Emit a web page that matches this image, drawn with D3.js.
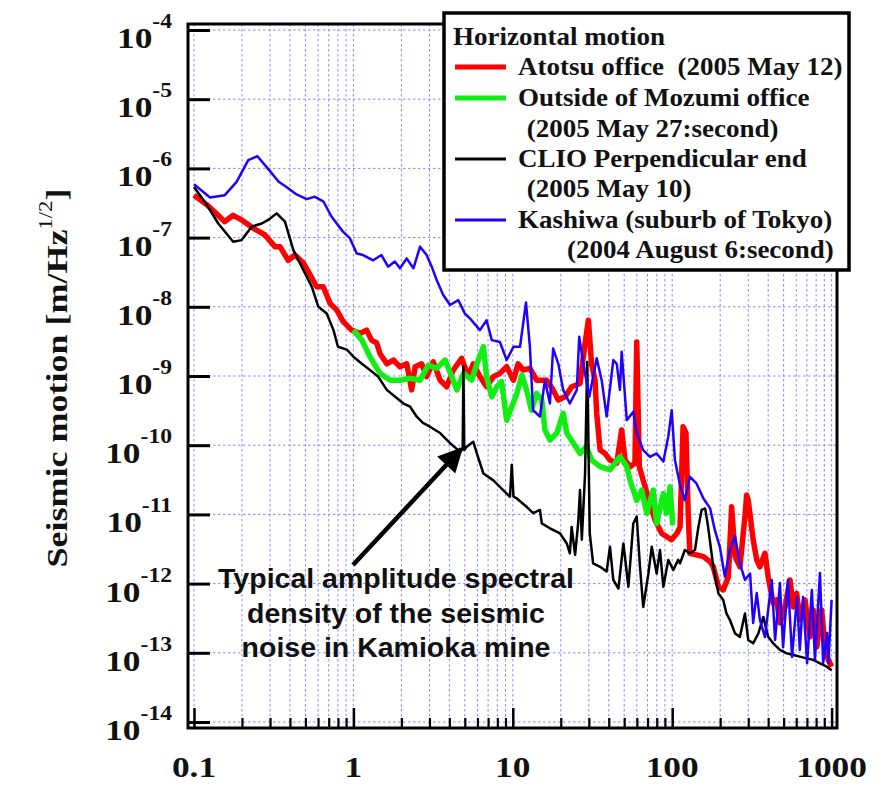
<!DOCTYPE html>
<html>
<head>
<meta charset="utf-8">
<script src="https://cdn.jsdelivr.net/npm/d3@7"></script>
<style>
  html, body { margin: 0; padding: 0; background: #fff; }
  svg { display: block; }
</style>
</head>
<body>
<div id="chart"></div>
<script>
// ---------- data: horizontal seismic amplitude spectral density [m/Hz^1/2] ----------
const xTickLabels = ["0.1", "1", "10", "100", "1000"];
const yDecadeExponents = [-4, -5, -6, -7, -8, -9, -10, -11, -12, -13, -14];

// Atotsu office (2005 May 12)
const atotsuFreq = [0.1, 0.12, 0.139, 0.156, 0.176, 0.199, 0.236, 0.279, 0.322, 0.346,
  0.39, 0.43, 0.485, 0.535, 0.588, 0.647, 0.714, 0.786, 0.863, 0.975,
  1.1, 1.21, 1.3, 1.4, 1.47, 1.62, 1.78, 1.96, 2.16, 2.32,
  2.44, 2.68, 2.88, 3.17, 3.5, 3.85, 4.23, 4.78, 5.26, 5.65,
  6.22, 6.85, 7.55, 8.3, 9.15, 10.1, 10.8, 11.6, 12.8, 14.1,
  16.3, 17.9, 19.3, 21.3, 23.4, 26.4, 28.4, 29.8, 31.2, 32.8,
  33.6, 35.3, 37.9, 40.7, 44.9, 48.2, 50.6, 54.4, 58.4, 59.9,
  62.2, 65.8, 72.5, 78, 86, 92, 99, 107, 112, 117,
  122, 126, 129, 142, 157, 173, 181, 195, 209, 225,
  236, 248, 266, 286, 293, 300, 322, 339, 355, 382,
  400, 430, 452, 474, 510, 548, 575, 604, 632, 681,
  731, 767, 808, 866, 909, 953, 1000];
const atotsuAsd = [4.1e-7, 3.0e-7, 2.2e-7, 1.7e-7, 2.1e-7, 1.8e-7, 1.36e-7, 1.09e-7, 7.4e-8, 7.4e-8,
  4.7e-8, 5.6e-8, 4.3e-8, 2.9e-8, 1.95e-8, 1.95e-8, 1.12e-8, 9.0e-9, 6.1e-9, 4.6e-9,
  4.1e-9, 4.6e-9, 3.3e-9, 3.0e-9, 2.1e-9, 1.5e-9, 1.7e-9, 1.36e-9, 1.5e-9, 6.3e-10,
  1.36e-9, 1.5e-9, 9.8e-10, 1.6e-9, 8.7e-10, 7.0e-10, 1.22e-9, 1.8e-9, 9.8e-10, 1.5e-9,
  9.8e-10, 7.0e-10, 9.8e-10, 1.09e-9, 1.36e-9, 8.7e-10, 1.5e-9, 1.22e-9, 1.29e-9, 8.7e-10,
  8.7e-10, 6.3e-10, 4.5e-10, 5.0e-10, 7.0e-10, 7.8e-10, 3.0e-9, 6.4e-9, 1.5e-9, 8.7e-10,
  2.9e-10, 8.5e-11, 7.6e-11, 6.1e-11, 5.5e-11, 1.66e-10, 6.1e-11, 4.9e-11, 5.5e-11, 3.1e-9,
  4.9e-11, 3.1e-11, 1.45e-11, 8.3e-12, 5.3e-12, 4.8e-12, 4.3e-12, 5.3e-12, 6.6e-12, 1.85e-10,
  1.5e-10, 1.04e-11, 2.74e-12, 2.6e-12, 2.45e-12, 2.07e-12, 1.75e-12, 9.0e-13, 8.1e-13, 1.26e-12,
  1.29e-11, 2.45e-12, 1.75e-12, 9.3e-12, 1.9e-11, 1.6e-11, 4.3e-12, 2.2e-12, 1.75e-12, 2.74e-12,
  1.26e-12, 5.2e-13, 5.8e-13, 2.7e-13, 4.6e-13, 1.13e-12, 4.6e-13, 7.2e-13, 3.0e-13, 5.8e-13,
  1.7e-13, 4.15e-13, 1.22e-13, 4.15e-13, 1.22e-13, 7.9e-14, 6.3e-14];

// Outside of Mozumi office (2005 May 27: second)
const mozumiFreq = [1.0, 1.13, 1.27, 1.47, 1.7, 1.96, 2.27, 2.62, 2.95, 3.33,
  3.76, 4.14, 4.45, 4.9, 5.52, 5.95, 6.54, 6.85, 7.38, 7.94,
  8.5, 9.15, 9.85, 10.6, 11.4, 12.2, 13.1, 14.1, 15.2, 15.9,
  17.1, 18.9, 20.7, 21.8, 24, 26.4, 29, 31.2, 35.3, 40.7,
  47, 51.9, 54.4, 59.9, 64.3, 69.3, 76.1, 79.9, 88, 92,
  97, 100.7];
const mozumiAsd = [4.6e-9, 3.3e-9, 1.9e-9, 1.09e-9, 8.7e-10, 8.7e-10, 9.3e-10, 8.7e-10, 1.44e-9, 1.29e-9,
  1.7e-9, 9.8e-10, 6.3e-10, 1.09e-9, 8.7e-10, 1.5e-9, 2.65e-9, 9.8e-10, 5.0e-10, 7.0e-10,
  8.3e-10, 2.3e-10, 3.6e-10, 5.6e-10, 1.03e-9, 6.3e-10, 3.2e-10, 5.6e-10, 4.5e-10, 1.66e-10,
  1.19e-10, 1.5e-10, 2.9e-10, 1.5e-10, 1.07e-10, 7.6e-11, 9.5e-11, 6.1e-11, 4.9e-11, 4.4e-11,
  6.8e-11, 4.9e-11, 3.1e-11, 1.6e-11, 2.25e-11, 1.04e-11, 2.25e-11, 7.4e-12, 2.0e-11, 1.04e-11,
  2.5e-11, 7.0e-12];

// CLIO perpendicular end (2005 May 10)
const clioFreq = [0.1, 0.12, 0.142, 0.176, 0.199, 0.23, 0.266, 0.292, 0.33, 0.372,
  0.42, 0.485, 0.548, 0.603, 0.68, 0.75, 0.8, 0.91, 1.0, 1.13,
  1.27, 1.43, 1.62, 1.87, 2.06, 2.27, 2.49, 2.73, 3.02, 3.5,
  4.04, 4.67, 4.85, 4.9, 4.96, 5.14, 5.65, 5.95, 6.54, 7.55,
  8.7, 9.6, 9.85, 10.1, 10.6, 12.2, 13.4, 14.8, 15.2, 17.1,
  19.8, 21.8, 22.8, 23.4, 24.6, 25.7, 26.4, 27.1, 28.4, 29.3,
  30.4, 31.9, 35.3, 38.8, 40.7, 42.7, 46, 49.4, 53.1, 57,
  59.9, 62.8, 65.8, 70.9, 74.4, 79.9, 83.8, 88, 94.5, 101.6,
  109, 112, 120, 129, 139, 146, 153, 161, 168, 181,
  195, 209, 219, 230, 248, 266, 286, 300, 322, 347,
  373, 400, 430, 474, 523, 575, 632, 697, 767, 845,
  932, 1000];
const clioAsd = [5.4e-7, 3.0e-7, 1.6e-7, 8.7e-8, 9.2e-8, 1.44e-7, 1.6e-7, 1.8e-7, 2.24e-7, 1.7e-7,
  6.6e-8, 3.4e-8, 1.95e-8, 1.0e-8, 8.0e-9, 4.6e-9, 2.65e-9, 2.4e-9, 1.9e-9, 1.5e-9,
  1.22e-9, 9.8e-10, 6.3e-10, 4.8e-10, 4.0e-10, 3.6e-10, 2.6e-10, 2.1e-10, 1.85e-10, 1.5e-10,
  1.07e-10, 8.0e-11, 9.0e-11, 1.36e-9, 8.5e-11, 9.5e-11, 1.12e-10, 7.6e-11, 3.9e-11, 3.1e-11,
  2.25e-11, 1.8e-11, 5.2e-11, 1.8e-11, 1.7e-11, 1.29e-11, 1.04e-11, 1.16e-11, 7.4e-12, 6.3e-12,
  5.3e-12, 3.8e-12, 2.74e-12, 6.6e-12, 2.6e-12, 7.4e-12, 2.25e-11, 4.3e-12, 3.9e-11, 1.6e-9,
  5.3e-12, 1.96e-12, 1.75e-12, 1.5e-12, 3.4e-12, 1.13e-12, 8.5e-13, 3.8e-12, 9.0e-13, 7.4e-12,
  9.3e-12, 1.75e-12, 4.6e-13, 1.4e-12, 3.4e-12, 1.4e-12, 3.06e-12, 9.0e-13, 2.2e-12, 1.57e-12,
  2.2e-12, 1.96e-12, 3.06e-12, 2.74e-12, 3.06e-12, 6.6e-12, 1.16e-11, 1.22e-11, 6.6e-12, 1.75e-12,
  7.2e-13, 5.8e-13, 3.7e-13, 3.0e-13, 1.9e-13, 1.7e-13, 3.7e-13, 1.53e-13, 1.37e-13, 1.9e-13,
  3.3e-13, 1.7e-13, 1.37e-13, 1.1e-13, 9.8e-14, 9.3e-14, 8.8e-14, 8.3e-14, 7.9e-14, 7.05e-14,
  6.3e-14, 5.6e-14];

// Kashiwa, suburb of Tokyo (2004 August 6: second)
const kashiwaFreq = [0.1, 0.126, 0.156, 0.185, 0.219, 0.25, 0.29, 0.34, 0.38, 0.44,
  0.51, 0.57, 0.65, 0.73, 0.86, 0.95, 1.05, 1.15, 1.33, 1.5,
  1.65, 1.82, 1.96, 2.16, 2.38, 2.62, 2.88, 3.1, 3.33, 3.66,
  4.04, 4.55, 5.0, 5.38, 6.22, 6.85, 7.38, 8.3, 9.15, 10.1,
  11.1, 12.1, 12.8, 13.4, 14.8, 15.9, 17.1, 17.9, 19.3, 20.7,
  22.8, 25.2, 26.1, 27.7, 30.2, 33.6, 36.1, 38.8, 42.7, 44.9,
  47.0, 48.2, 51.9, 57, 59.9, 65.8, 72.5, 79.9, 88, 94.5,
  99.3, 104, 112, 120, 129, 142, 157, 173, 185, 199,
  214, 230, 248, 266, 286, 308, 322, 339, 355, 382,
  421, 442, 474, 496, 532, 565, 606, 632, 662, 702,
  752, 786, 845, 885, 936, 955, 1000];
const kashiwaAsd = [5.9e-7, 3.8e-7, 4.1e-7, 6.4e-7, 1.32e-6, 1.5e-6, 1.0e-6, 6.4e-7, 5.4e-7, 4.2e-7,
  3.6e-7, 3.9e-7, 3.3e-7, 2.0e-7, 1.22e-7, 9.8e-8, 5.9e-8, 5.6e-8, 4.7e-8, 5.6e-8,
  3.8e-8, 4.5e-8, 3.6e-8, 5.0e-8, 3.6e-8, 7.4e-8, 5.6e-8, 3.8e-8, 2.44e-8, 1.48e-8,
  1.06e-8, 1.25e-8, 8.0e-9, 6.8e-9, 4.6e-9, 6.4e-9, 3.3e-9, 3.1e-9, 1.7e-9, 2.65e-9,
  2.65e-9, 1.15e-8, 2.65e-9, 3.2e-10, 2.6e-10, 8.7e-10, 4.0e-10, 2.5e-9, 1.5e-9, 6.3e-10,
  4.0e-10, 6.3e-10, 3.7e-9, 1.5e-9, 5.0e-10, 1.8e-9, 8.7e-10, 2.6e-10, 1.7e-9, 1.5e-9,
  6.3e-10, 2.24e-9, 2.3e-10, 3.05e-10, 1.5e-10, 8.5e-11, 6.8e-11, 7.6e-11, 5.8e-11, 1.33e-10,
  3.2e-10, 6.1e-11, 2.66e-11, 1.6e-11, 3.5e-11, 2.8e-11, 1.7e-11, 1.22e-11, 5.96e-12, 3.4e-12,
  1.26e-12, 3.06e-12, 4.8e-12, 1.96e-12, 1.13e-12, 1.4e-12, 2.7e-13, 7.3e-13, 3.0e-13, 1.69e-13,
  1.13e-12, 1.53e-13, 1.02e-12, 1.2e-13, 1.13e-12, 8.7e-14, 6.4e-13, 1.1e-13, 6.4e-13, 7.1e-14,
  8.1e-13, 7.9e-14, 1.42e-12, 7.1e-14, 1.93e-13, 7.1e-14, 5.8e-13];

const seriesNames = ["Atotsu office  (2005 May 12)", "Outside of Mozumi office", "CLIO Perpendicular end", "Kashiwa (suburb of Tokyo)"];
const seriesDates = ["", " (2005 May 27:second)", " (2005 May 10)", "(2004 August 6:second)"];
const seriesColors = ["#ff0000", "#11ee11", "#000000", "#2200ff"];
const seriesWidths = [5.5, 5.5, 2.5, 2.5];

const legendTitle = "Horizontal motion";
const yTitle = "Seismic motion [m/Hz";
const yTitleSup = "1/2";
const noteLines = ["Typical amplitude spectral", "density of the seismic", "noise in Kamioka mine"];
const noteTarget = [4.9, 9.2e-11];   // point the arrow indicates

// ---------- layout ----------
const W = 886, H = 786;
const frame = { left: 188, right: 837, top: 24, bottom: 728 };
const serif = "'Liberation Serif', 'Times New Roman', Times, serif";
const sans = "'Liberation Sans', Arial, Helvetica, sans-serif";
const serifWiden = 1.18;   // the axis lettering is set in a wide bold serif
const legendWiden = 1.08;

const svg = d3.select("#chart").append("svg")
  .attr("width", W).attr("height", H)
  .attr("viewBox", `0 0 ${W} ${H}`);

const x = d3.scaleLog().domain([0.1, 1000]).range([194, 831.6]);
const y = d3.scaleLog().domain([1e-4, 1e-14]).range([30, 722]);

// ---------- grid ----------
const minorX = [];
[0.1, 1, 10, 100].forEach(d => { for (let k = 1; k < 10; k++) minorX.push(d * k); });
minorX.push(1000);
const decadesY = yDecadeExponents.map(e => Math.pow(10, e));

const grid = svg.append("g").attr("stroke", "#8888ff").attr("stroke-width", 1)
  .attr("stroke-dasharray", "2.5,2.5").attr("fill", "none");
grid.selectAll("line.v").data(minorX).join("line")
  .attr("class", "v")
  .attr("x1", d => x(d)).attr("x2", d => x(d))
  .attr("y1", frame.top).attr("y2", frame.bottom);
grid.selectAll("line.h").data(decadesY).join("line")
  .attr("class", "h")
  .attr("x1", frame.left).attr("x2", frame.right)
  .attr("y1", d => y(d)).attr("y2", d => y(d));

// ---------- data lines ----------
svg.append("clipPath").attr("id", "plotClip").append("rect")
  .attr("x", frame.left).attr("y", frame.top)
  .attr("width", frame.right - frame.left).attr("height", frame.bottom - frame.top);

const series = [
  d3.zip(atotsuFreq, atotsuAsd),
  d3.zip(mozumiFreq, mozumiAsd),
  d3.zip(clioFreq, clioAsd),
  d3.zip(kashiwaFreq, kashiwaAsd)
];
const line = d3.line().x(d => x(d[0])).y(d => y(d[1]));
const lines = svg.append("g").attr("clip-path", "url(#plotClip)");
series.forEach((s, i) => {
  lines.append("path").datum(s)
    .attr("d", line)
    .attr("fill", "none")
    .attr("stroke", seriesColors[i])
    .attr("stroke-width", seriesWidths[i])
    .attr("stroke-linejoin", "round");
});

// ---------- axes ----------
const leftAxis = d3.axisLeft(y).tickValues(decadesY).tickSize(-22).tickFormat("");
svg.append("g").attr("transform", `translate(${frame.left},0)`).call(leftAxis)
  .call(g => g.select(".domain").remove())
  .call(g => g.selectAll(".tick line").attr("stroke", "#000").attr("stroke-width", 3));

const majorX = xTickLabels.map(Number);
const minorOnly = minorX.filter(d => !majorX.includes(d));
svg.append("g").attr("transform", `translate(0,${frame.bottom})`)
  .call(d3.axisBottom(x).tickValues(minorOnly).tickSize(-10).tickFormat(""))
  .call(g => g.select(".domain").remove())
  .call(g => g.selectAll(".tick line").attr("stroke", "#000").attr("stroke-width", 2.2));
svg.append("g").attr("transform", `translate(0,${frame.bottom})`)
  .call(d3.axisBottom(x).tickValues(majorX).tickSize(-20).tickFormat(""))
  .call(g => g.select(".domain").remove())
  .call(g => g.selectAll(".tick line").attr("stroke", "#000").attr("stroke-width", 2.5));

// frame
svg.append("rect")
  .attr("x", frame.left).attr("y", frame.top)
  .attr("width", frame.right - frame.left).attr("height", frame.bottom - frame.top)
  .attr("fill", "none").attr("stroke", "#000").attr("stroke-width", 3);

// y tick labels: 10^n
const yLab = svg.append("g").attr("font-family", serif).attr("font-weight", "bold").attr("fill", "#111");
yDecadeExponents.forEach(e => {
  const t = yLab.append("text")
    .attr("transform", `translate(172,${y(Math.pow(10, e)) + 18}) scale(${serifWiden},1)`)
    .attr("text-anchor", "end").attr("font-size", 30);
  t.append("tspan").text("10");
  t.append("tspan").attr("dy", -20).attr("font-size", 20).text(String(e));
});

// x tick labels
svg.append("g").attr("font-family", serif).attr("font-weight", "bold").attr("fill", "#111")
  .selectAll("text").data(xTickLabels).join("text")
  .attr("transform", d => `translate(${x(+d)},777) scale(${serifWiden},1)`)
  .attr("text-anchor", "middle").attr("font-size", 30)
  .text(d => d);

// y axis title
const yt = svg.append("text")
  .attr("transform", `translate(67,378) rotate(-90) scale(1.2,1)`)
  .attr("text-anchor", "middle")
  .attr("font-family", serif).attr("font-weight", "bold").attr("font-size", 30).attr("fill", "#111");
yt.append("tspan").text(yTitle);
yt.append("tspan").attr("dy", -15).attr("font-size", 19).attr("font-weight", "normal").text(yTitleSup);
yt.append("tspan").attr("dy", 15).text("]");

// ---------- legend ----------
const lg = svg.append("g");
lg.append("rect").attr("x", 444).attr("y", 13).attr("width", 405).attr("height", 257)
  .attr("fill", "#fff").attr("stroke", "#000").attr("stroke-width", 3.5);
const lgText = lg.append("g").attr("font-family", serif).attr("font-weight", "bold")
  .attr("font-size", 25).attr("fill", "#111");
const legendLabel = (tx, ty, str) => lgText.append("text")
  .attr("transform", `translate(${tx},${ty}) scale(${legendWiden},1)`)
  .attr("xml:space", "preserve").text(str);
legendLabel(453, 45, legendTitle);
const rowBase = [75, 106, 167, 228];
const dateRow = [null, 137, 197, 258];
const dateX = [null, 520, 520, 567];
seriesNames.forEach((name, i) => {
  lg.append("line")
    .attr("x1", 455).attr("x2", 506)
    .attr("y1", rowBase[i] - 8).attr("y2", rowBase[i] - 8)
    .attr("stroke", seriesColors[i]).attr("stroke-width", i < 2 ? 5 : 3);
  legendLabel(518, rowBase[i], name);
  if (dateRow[i]) legendLabel(dateX[i], dateRow[i], seriesDates[i]);
});

// ---------- annotation ----------
const note = svg.append("g").attr("font-family", sans).attr("font-weight", "bold")
  .attr("font-size", 28.5).attr("fill", "#111").attr("text-anchor", "middle");
noteLines.forEach((t, i) => {
  note.append("text").attr("x", 396).attr("y", 588 + i * 34.5).text(t);
});

svg.append("defs").append("marker")
  .attr("id", "arrowHead").attr("viewBox", "0 0 10 10")
  .attr("refX", 9).attr("refY", 5)
  .attr("markerWidth", 6).attr("markerHeight", 5.5)
  .attr("markerUnits", "strokeWidth")
  .attr("orient", "auto")
  .append("path").attr("d", "M0,0 L10,5 L0,10 Z").attr("fill", "#000");

svg.append("line")
  .attr("x1", 353).attr("y1", 565)
  .attr("x2", x(noteTarget[0]) - 2).attr("y2", y(noteTarget[1]) + 1)
  .attr("stroke", "#000").attr("stroke-width", 4.5)
  .attr("marker-end", "url(#arrowHead)");
</script>
</body>
</html>
